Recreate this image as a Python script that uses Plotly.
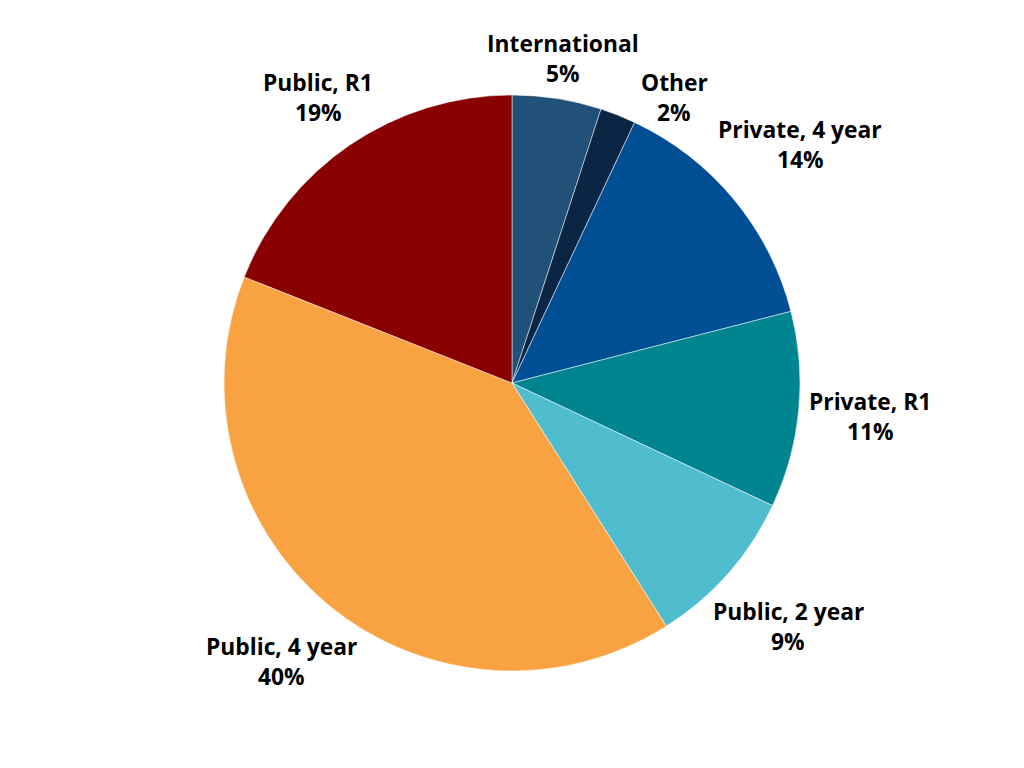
import math
import plotly.graph_objects as go

labels = ["International", "Other", "Private, 4 year", "Private, R1",
          "Public, 2 year", "Public, 4 year", "Public, R1"]
values = [5, 2, 14, 11, 9, 40, 19]
colors = ["#215078", "#0b2644", "#004f95", "#00848f", "#4fbdce", "#f9a241", "#880000"]

W, H = 1024, 768
# the page body adds an 8px offset; margins compensate so the pie sits at (512, 383)
M_T, M_B, M_L, M_R = 87, 105, 0, 16
PW, PH = W - M_L - M_R, H - M_T - M_B
R = min(PW, PH) / 2
CX, CY = M_L + PW / 2, M_T + PH / 2

FONT_SIZE = 22.8
FONT = dict(family="Open Sans", size=FONT_SIZE, color="black", weight="bold")
CHAR_W = 0.487 * FONT_SIZE
LINE_GAP = 30
BOX_H = 40
PAD = 9
SEP = 9

fig = go.Figure(go.Pie(
    labels=labels,
    values=values,
    sort=False,
    direction="clockwise",
    rotation=0,
    marker=dict(colors=colors, line=dict(color="white", width=0.5)),
    textinfo="none",
    hoverinfo="label+percent",
    showlegend=False,
))

total = sum(values)
placed = []


def box_at(theta, w, h):
    s, c = math.sin(math.radians(theta)), math.cos(math.radians(theta))
    d = R + PAD + abs(s) * w / 2 + abs(c) * h / 2
    x, y = CX + d * s, CY - d * c
    return (x - w / 2, y - h / 2, x + w / 2, y + h / 2), x, y


def overlaps(b, others):
    for o in others:
        if (b[0] < o[2] + SEP and b[2] > o[0] - SEP
                and b[1] < o[3] + SEP and b[3] > o[1] - SEP):
            return True
    return False


annotations = []
cum = 0
for lab, v in zip(labels, values):
    pct = f"{round(100 * v / total)}%"
    mid = (cum + v / 2) / total * 360
    cum += v
    w = max(len(lab), len(pct)) * CHAR_W
    theta = mid
    b, x, y = box_at(theta, w, BOX_H)
    while overlaps(b, placed):
        theta += 0.5
        b, x, y = box_at(theta, w, BOX_H)
    placed.append(b)
    for txt, dy in ((lab, -LINE_GAP / 2), (pct, LINE_GAP / 2)):
        annotations.append(dict(
            text=txt, showarrow=False, font=FONT,
            xref="paper", yref="paper",
            x=(x - M_L) / PW, y=1 - (y + dy - M_T) / PH,
            xanchor="center", yanchor="middle",
        ))

fig.update_layout(
    width=W, height=H,
    margin=dict(l=M_L, r=M_R, t=M_T, b=M_B),
    paper_bgcolor="white",
    plot_bgcolor="white",
    annotations=annotations,
)
fig.write_html("out.html")
